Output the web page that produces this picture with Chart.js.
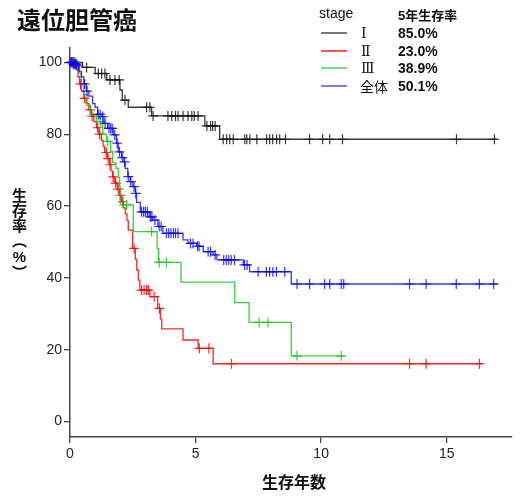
<!DOCTYPE html>
<html><head><meta charset="utf-8">
<script src="https://cdn.jsdelivr.net/npm/chart.js@4"></script>
<style>
html,body{margin:0;padding:0;background:#fff;}
#wrap{position:relative;width:520px;height:500px;overflow:hidden;font-family:"Liberation Sans","Noto Sans CJK JP",sans-serif;color:#111;}
canvas{position:absolute;left:0;top:0;}
.t{position:absolute;white-space:nowrap;line-height:1;}
.ln{position:absolute;height:2px;width:26px;}
</style></head>
<body><div id="wrap">
<canvas id="c" width="520" height="500"></canvas>
<div class="t" style="left:17px;top:7px;font-size:24px;font-weight:bold;font-family:'Noto Sans CJK JP';">遠位胆管癌</div>
<div class="t" style="left:319px;top:6px;font-size:14px;">stage</div>
<div class="t" style="left:398px;top:9px;font-size:13px;font-weight:bold;">5年生存率</div>
<div id="legend"></div>
<div class="t" style="left:262px;top:473px;font-size:16px;font-weight:bold;font-family:'Noto Sans CJK JP';">生存年数</div>
<div class="t" style="left:12px;top:188px;font-size:15px;font-weight:bold;font-family:'Noto Sans CJK JP';writing-mode:vertical-rl;">生存率（<span style="text-orientation:upright;font-family:'Liberation Sans'">%</span>）</div>
</div>
<script>
// ---- data ----
const xTicks = [0, 5, 10, 15];
const yTicks = [0, 20, 40, 60, 80, 100];
const stageLabels = ['Ⅰ', 'Ⅱ', 'Ⅲ', '全体'];
const fiveYearRates = ['85.0%', '23.0%', '38.9%', '50.1%'];

// stage I
const s1Time = [0, 0.5, 1.0, 1.46, 1.99, 2.08, 2.32, 3.25, 5.37, 5.96, 17.0];
const s1Surv = [100, 98.6, 96.9, 95.1, 92.3, 89.5, 87.5, 85.1, 82.3, 78.6, 78.6];
const s1CensorTime = [0.05,0.12,0.2,0.66,1.13,1.26,1.39,1.59,1.79,1.96,2.19,3.05,3.18,3.31,3.9,4.05,4.2,4.3,4.5,4.7,4.85,4.95,5.1,5.45,5.6,5.68,5.78,6.1,6.24,6.36,6.5,6.96,7.04,7.16,7.44,7.83,7.95,8.07,8.23,8.35,8.58,9.54,10.06,10.34,10.85,15.39,16.9];
const s1CensorSurv = [100,100,100,98.6,96.9,96.9,96.9,95.1,95.1,95.1,89.5,87.5,87.5,85.1,85.1,85.1,85.1,85.1,85.1,85.1,85.1,85.1,85.1,82.3,82.3,82.3,82.3,78.6,78.6,78.6,78.6,78.6,78.6,78.6,78.6,78.6,78.6,78.6,78.6,78.6,78.6,78.6,78.6,78.6,78.6,78.6,78.6];

// stage II
const s2Time = [0,0.25,0.32,0.38,0.45,0.55,0.65,0.75,0.85,0.95,1.05,1.15,1.25,1.32,1.38,1.48,1.58,1.63,1.7,1.78,1.88,1.97,2.05,2.12,2.2,2.27,2.32,2.49,2.6,2.66,2.72,2.78,3.18,3.49,3.6,3.65,4.5,5.1,5.7,16.43];
const s2Surv = [100,98,96,94,92,90,88.5,86.8,85,83.5,81.8,80,78.3,76.6,74.9,73.2,71.5,69.8,68.1,66.4,64.7,63,61.2,59.5,57.8,56,53.3,48.2,45.2,42.2,39.4,36.6,34.8,31.5,28.6,25.8,22.7,20.4,16.1,16.1];
const s2CensorTime = [0.1,0.42,0.58,0.8,0.88,1.1,1.18,1.45,1.52,1.6,1.72,1.82,1.92,2.0,2.1,2.55,2.85,2.95,3.05,3.12,3.35,3.56,5.15,5.53,6.43,13.52,14.18,16.3];
const s2CensorSurv = [100,94,90,86.8,85,81.8,80,74.9,73.2,71.5,68.1,66.4,64.7,63,61.2,48.2,36.6,36.6,36.6,36.6,34.8,31.5,20.4,20.4,16.1,16.1,16.1,16.1];

// stage III
const s3Time = [0,0.36,0.45,0.55,0.68,0.82,1.05,1.3,1.45,1.62,1.7,1.83,1.92,1.97,2.0,2.52,3.47,3.52,4.42,6.56,7.13,8.81,10.93];
const s3Surv = [100,97,94,91,88,85.5,83.5,80,78,75.2,72,70.5,68,65.5,60.3,52.9,48.2,44.3,38.8,33.1,27.6,18.3,18.3];
const s3CensorTime = [0.15,1.2,1.5,2.25,3.25,3.55,3.84,7.53,7.88,9.04,10.8];
const s3CensorSurv = [100,83.5,78,60.3,52.9,44.3,44.3,27.6,27.6,18.3,18.3];

// all
const s4Time = [0,0.1,0.3,0.36,0.45,0.55,0.65,0.75,0.9,1.0,1.1,1.28,1.35,1.5,1.72,1.85,1.92,2.05,2.15,2.2,2.3,2.4,2.5,2.6,2.65,2.8,3.15,3.3,3.5,3.7,4.5,4.7,5.05,5.3,5.7,5.85,6.9,7.15,8.81,17.03];
const s4Surv = [100,99.5,99,97.5,96,94,92,90.6,88.5,87.5,85.5,84.9,83,81.6,79.8,77.5,75.1,73.5,72.3,70.5,68.2,66.8,65.4,63.5,61,58.4,57,56.1,54.3,52.4,50.6,49.6,48.8,47.3,46.4,45,43.6,41.7,38.3,38.3];
const s4CensorTime = [0.03,0.08,0.13,0.18,0.22,0.27,0.32,0.58,0.68,1.12,1.2,1.3,1.4,1.55,1.62,1.68,1.78,1.88,1.97,2.08,2.17,2.32,2.42,2.55,2.62,2.85,2.93,3.0,3.08,3.2,3.26,3.38,3.55,3.63,3.84,3.93,4.02,4.12,4.2,4.3,4.8,4.9,5.08,5.14,5.5,5.6,5.78,6.12,6.22,6.32,6.42,6.55,6.95,7.05,7.49,7.82,7.95,8.08,8.22,8.55,9.04,9.54,10.14,10.34,10.8,10.9,13.52,14.18,15.38,16.3,16.87];
const s4CensorSurv = [100,100,99.5,99.5,99.5,99.5,99,94,92,85.5,85.5,84.9,83,81.6,81.6,81.6,79.8,77.5,75.1,73.5,72.3,68.2,66.8,65.4,63.5,58.4,58.4,58.4,58.4,57,57,56.1,54.3,54.3,52.4,52.4,52.4,52.4,52.4,52.4,49.6,49.6,48.8,48.8,47.3,47.3,46.4,45,45,45,45,45,43.6,43.6,41.7,41.7,41.7,41.7,41.7,41.7,38.3,38.3,38.3,38.3,38.3,38.3,38.3,38.3,38.3,38.3,38.3];

// ---- styles ----
const lineColors = ['rgba(20,20,20,0.85)', 'rgba(255,0,0,0.85)', 'rgba(20,200,20,0.85)', 'rgba(0,0,255,0.8)'];
const legendColors = ['#777', '#ff5555', '#77dd77', '#7777ff'];

const pairs = (xs, ys) => xs.map((x, i) => ({x: x, y: ys[i]}));
const series = [
  [s1Time, s1Surv, s1CensorTime, s1CensorSurv],
  [s2Time, s2Surv, s2CensorTime, s2CensorSurv],
  [s3Time, s3Surv, s3CensorTime, s3CensorSurv],
  [s4Time, s4Surv, s4CensorTime, s4CensorSurv]
];
const datasets = [];
series.forEach((s, i) => {
  datasets.push({
    data: pairs(s[0], s[1]), showLine: true, stepped: 'before',
    borderColor: lineColors[i], borderWidth: 1.3, pointRadius: 0, order: 3 - i, clip: 6
  });
  datasets.push({
    data: pairs(s[2], s[3]), showLine: false, pointStyle: 'cross',
    pointRadius: 5, pointHoverRadius: 5, borderColor: lineColors[i], pointBorderColor: lineColors[i],
    pointBorderWidth: 1.2, borderWidth: 1.2, order: 3 - i, clip: 8
  });
});

// legend rows (HTML)
const legendTops = [33, 50.5, 68, 85.5];
const lg = document.getElementById('legend');
stageLabels.forEach((lab, i) => {
  const ln = document.createElement('div'); ln.className = 'ln';
  ln.style.left = '321px'; ln.style.top = (legendTops[i] - 1) + 'px'; ln.style.background = legendColors[i];
  lg.appendChild(ln);
  const t = document.createElement('div'); t.className = 't';
  t.style.left = (i < 3 ? 361 : 360) + 'px'; t.style.top = (legendTops[i] - 7) + 'px'; t.style.fontSize = '14px';
  t.style.fontFamily = i < 3 ? "'DejaVu Serif','Noto Sans CJK JP'" : "'Noto Sans CJK JP'";
  t.textContent = lab; lg.appendChild(t);
  const v = document.createElement('div'); v.className = 't';
  v.style.left = '398px'; v.style.top = (legendTops[i] - 7) + 'px'; v.style.fontSize = '14px';
  v.style.fontWeight = 'bold'; v.textContent = fiveYearRates[i]; lg.appendChild(v);
});

const axisColor = '#444';
new Chart(document.getElementById('c'), {
  type: 'scatter',
  data: { datasets: datasets },
  options: {
    responsive: false, animation: false, devicePixelRatio: 1,
    layout: { padding: { top: 48, right: 8, left: 0, bottom: 0 } },
    plugins: { legend: { display: false }, tooltip: { enabled: false } },
    scales: {
      x: {
        type: 'linear', min: 0, max: 17.6,
        afterBuildTicks: s => { s.ticks = xTicks.map(v => ({value: v})); },
        afterFit: s => { s.height = 63; },
        grid: { drawOnChartArea: false, drawTicks: true, tickLength: 6, color: axisColor, lineWidth: 1.3 },
        border: { display: true, color: axisColor, width: 1.5 },
        ticks: { font: { size: 14, family: 'Liberation Sans' }, color: '#222', padding: 3, maxRotation: 0, autoSkip: false }
      },
      y: {
        type: 'linear', min: -4.3, max: 104,
        afterBuildTicks: s => { s.ticks = yTicks.map(v => ({value: v})); },
        afterFit: s => { s.width = 70; },
        grid: { drawOnChartArea: false, drawTicks: true, tickLength: 6, color: axisColor, lineWidth: 1.3 },
        border: { display: true, color: axisColor, width: 1.5 },
        ticks: { font: { size: 14, family: 'Liberation Sans' }, color: '#222', padding: 2, autoSkip: false }
      }
    }
  }
});
</script>
</body></html>
